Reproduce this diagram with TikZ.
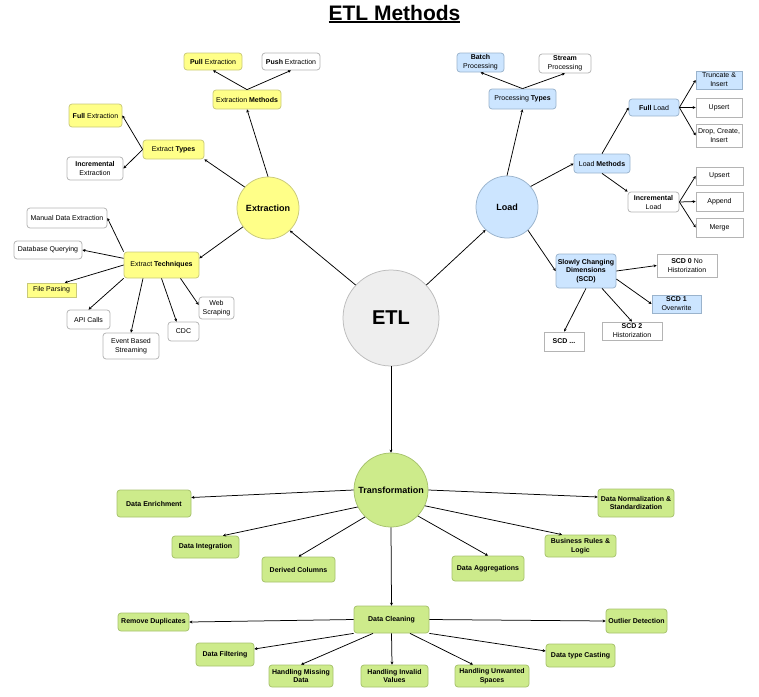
\documentclass[tikz,border=0pt]{standalone}
\usepackage{fontspec}
\setmainfont{Liberation Sans}
\usepackage{xcolor}
\usepackage{tikz}
\usetikzlibrary{arrows.meta}

\definecolor{ylfill}{HTML}{FFFF88}
\definecolor{yldraw}{HTML}{C9C97A}
\definecolor{blfill}{HTML}{CCE5FF}
\definecolor{bldraw}{HTML}{9AB3CC}
\definecolor{grfill}{HTML}{CDEB8B}
\definecolor{grdraw}{HTML}{A6C26C}
\definecolor{wtdraw}{HTML}{B4B4B4}
\definecolor{etlfill}{HTML}{EEEEEE}
\definecolor{etldraw}{HTML}{BBBBBB}

\tikzstyle{box} = [
    rectangle, 
    rounded corners=3pt,
    draw,
    align=center,
    inner sep=1pt,
    % minimum size=5mm,
    font=\fontsize{7}{9}\selectfont
    ]
\tikzstyle{ybox} = [box, fill=ylfill, draw=yldraw]
\tikzstyle{bbox} = [box, fill=blfill, draw=bldraw]
\tikzstyle{wbox} = [box, fill=white, draw=wtdraw]
\tikzstyle{gbox} = [box, fill=grfill, draw=grdraw, font=\fontsize{7}{8.5}\selectfont\bfseries]
\tikzstyle{hub} = [
    circle,
    draw,
    inner sep=0pt,
    font=\fontsize{9}{11}\selectfont\bfseries
    ]

\begin{document}
\begin{tikzpicture}[x=1pt, y=-1pt, line width=0.75pt, >={Stealth[length=3pt,width=3pt]}]
        \useasboundingbox (0,0) rectangle (759,696);

        \node (title) [anchor=base] at (394.5,20) {\fontsize{21}{25}\selectfont\bfseries
            \setbox0\hbox{ETL Methods}\rlap{\rule[-3.2pt]{\wd0}{1.8pt}}\box0};

        \node (etl) [hub, fill=etlfill, draw=etldraw, minimum size=96pt, font=\fontsize{20}{24}\selectfont\bfseries] at (391,318) {ETL};

        % Extraction
        \node (ext) [hub, fill=ylfill, draw=yldraw, minimum size=62pt] at (268,208) {Extraction};
        \node (emeth) [ybox, minimum width=68pt, minimum height=19pt] at (247,99.5) {Extraction \textbf{Methods}};
        \node (pull) [ybox, minimum width=58pt, minimum height=17pt] at (213,61.5) {\textbf{Pull} Extraction};
        \node (push) [wbox, minimum width=58pt, minimum height=17pt] at (291,61.5) {\textbf{Push} Extraction};
        \node (etypes) [ybox, minimum width=61pt, minimum height=19pt] at (173.5,149.5) {Extract \textbf{Types}};
        \node (fullx) [ybox, minimum width=53pt, minimum height=23pt] at (95.5,115.5) {\textbf{Full} Extraction};
        \node (incx) [wbox, minimum width=56pt, minimum height=23pt] at (95,168.5) {\textbf{Incremental}\\Extraction};
        \node (etech) [ybox, minimum width=75pt, minimum height=26pt] at (161.5,265) {Extract \textbf{Techniques}};
        \node (manual) [wbox, minimum width=80pt, minimum height=20pt] at (67,218) {Manual Data Extraction};
        \node (dbq) [wbox, minimum width=68pt, minimum height=18pt] at (48,250) {Database Querying};
        \node (file) [ybox, sharp corners, minimum width=49pt, minimum height=14pt] at (51.5,290) {File Parsing};
        \node (api) [wbox, minimum width=43pt, minimum height=19pt] at (88.5,319.5) {API Calls};
        \node (event) [wbox, minimum width=56pt, minimum height=26pt] at (131,346) {Event Based\\Streaming};
        \node (cdc) [wbox, minimum width=31pt, minimum height=19pt] at (183.5,331.5) {CDC};
        \node (web) [wbox, minimum width=35pt, minimum height=22pt] at (216.5,308) {Web\\Scraping};

        % Load
        \node (load) [hub, fill=blfill, draw=bldraw, minimum size=62pt] at (507,207) {Load};
        \node (ptypes) [bbox, minimum width=67pt, minimum height=20pt] at (522.5,99) {Processing \textbf{Types}};
        \node (batch) [bbox, minimum width=47pt, minimum height=19pt] at (480.5,62.5) {\textbf{Batch}\\Processing};
        \node (stream) [wbox, minimum width=52pt, minimum height=19pt] at (565,63.5) {\textbf{Stream}\\Processing};
        \node (lmeth) [bbox, minimum width=56pt, minimum height=19pt] at (602,163.5) {Load \textbf{Methods}};
        \node (fload) [bbox, minimum width=50pt, minimum height=17pt] at (654,107.5) {\textbf{Full} Load};
        \node (trunc) [bbox, sharp corners, minimum width=46pt, minimum height=18pt] at (719,80) {Truncate \&\\Insert};
        \node (fups) [wbox, sharp corners, minimum width=46pt, minimum height=19pt] at (719,107.5) {Upsert};
        \node (drop) [wbox, sharp corners, minimum width=46pt, minimum height=23pt] at (719,135.5) {Drop, Create,\\Insert};
        \node (iload) [wbox, minimum width=51pt, minimum height=20pt] at (653.5,202) {\textbf{Incremental}\\Load};
        \node (iups) [wbox, sharp corners, minimum width=47pt, minimum height=18pt] at (719.5,176) {Upsert};
        \node (app) [wbox, sharp corners, minimum width=47pt, minimum height=19pt] at (719.5,201.5) {Append};
        \node (merge) [wbox, sharp corners, minimum width=47pt, minimum height=19pt] at (719.5,227.5) {Merge};
        \node (scd) [bbox, minimum width=60pt, minimum height=34pt, font=\fontsize{7}{8.5}\selectfont\bfseries] at (586,271) {Slowly Changing\\Dimensions\\(SCD)};
        \node (scd0) [wbox, sharp corners, minimum width=60pt, minimum height=23pt] at (687,265.5) {\textbf{SCD 0} No\\Historization};
        \node (scd1) [bbox, sharp corners, minimum width=49pt, minimum height=18pt] at (676.5,304) {\textbf{SCD 1}\\Overwrite};
        \node (scd2) [wbox, sharp corners, minimum width=60pt, minimum height=18pt] at (632,331) {\textbf{SCD 2}\\Historization};
        \node (scdx) [wbox, sharp corners, minimum width=40pt, minimum height=19pt] at (564,341.5) {\textbf{SCD ...}};

        % Transformation
        \node (trans) [hub, fill=grfill, draw=grdraw, minimum size=74pt] at (391,490) {Transformation};
        \node (enrich) [gbox, minimum width=74pt, minimum height=27pt] at (154,503.5) {Data Enrichment};
        \node (integ) [gbox, minimum width=67pt, minimum height=22pt] at (205.5,547) {Data Integration};
        \node (derived) [gbox, minimum width=73pt, minimum height=25pt] at (298.5,569.5) {Derived Columns};
        \node (norm) [gbox, minimum width=76pt, minimum height=28pt] at (636,503) {Data Normalization \&\\Standardization};
        \node (rules) [gbox, minimum width=71pt, minimum height=22pt] at (580.5,546) {Business Rules \&\\Logic};
        \node (aggr) [gbox, minimum width=72pt, minimum height=25pt] at (488,568.5) {Data Aggregations};
        \node (clean) [gbox, minimum width=75pt, minimum height=27pt] at (391.5,619.5) {Data Cleaning};
        \node (dup) [gbox, minimum width=71pt, minimum height=18pt] at (153.5,622) {Remove Duplicates};
        \node (filt) [gbox, minimum width=58pt, minimum height=23pt] at (225,654.5) {Data Filtering};
        \node (hmiss) [gbox, minimum width=64pt, minimum height=22pt] at (301,676) {Handling Missing\\Data};
        \node (hinv) [gbox, minimum width=67pt, minimum height=22pt] at (394.5,676) {Handling Invalid\\Values};
        \node (hunw) [gbox, minimum width=74pt, minimum height=22pt] at (492,676) {Handling Unwanted\\Spaces};
        \node (cast) [gbox, minimum width=69pt, minimum height=23pt] at (580.5,655.5) {Data type Casting};
        \node (outl) [gbox, minimum width=61pt, minimum height=24pt] at (636.5,621) {Outlier Detection};

        % Lines
        \draw[->] (etl.137) -- (ext.314);
        \draw[->] (etl.43) -- (load.227);
        \draw[->] (etl.south) -- (trans.north);

        \draw[->] (ext.north) -- (emeth.south);
        \draw[->] (emeth.north) -- (pull.south);
        \draw[->] (emeth.north) -- (push.south);
        \draw[->] (ext.138) -- (etypes.south east);
        \draw[->] (etypes.west) -- (fullx.east);
        \draw[->] (etypes.west) -- (incx.east);
        \draw[->] (ext.217) -- (etech.10);
        \draw[->] (etech.north west) -- (manual.east);
        \draw[->] (etech.170) -- (dbq.east);
        \draw[->] (etech.west) -- (file.29);
        \draw[->] (etech.south west) -- (api.north);
        \draw[->] ([xshift=-18.5pt]etech.south) -- (event.north);
        \draw[->] (etech.south) -- ([xshift=-7pt]cdc.north);
        \draw[->] ([xshift=19pt]etech.south) -- (web.170);

        \draw[->] (load.north) -- (ptypes.south);
        \draw[->] (ptypes.north) -- (batch.south);
        \draw[->] (ptypes.north) -- (stream.south);
        \draw[->] (load.41) -- (lmeth.west);
        \draw[->] (lmeth.north) -- (fload.west);
        \draw[->] (lmeth.south) -- (iload.north west);
        \draw[->] (fload.east) -- (trunc.west);
        \draw[->] (fload.east) -- (fups.west);
        \draw[->] (fload.east) -- (drop.west);
        \draw[->] (iload.east) -- (iups.west);
        \draw[->] (iload.east) -- (app.west);
        \draw[->] (iload.east) -- (merge.west);
        \draw[->] (load.312) -- (scd.west);
        \draw[->] (scd.east) -- (scd0.west);
        \draw[->] ([yshift=-8pt]scd.east) -- (scd1.west);
        \draw[->] ([xshift=16pt]scd.south) -- (scd2.north);
        \draw[->] (scd.south) -- (scdx.north);

        \draw[->] (trans.west) -- ([yshift=6pt]enrich.east);
        \draw[->] (trans.207) -- ([xshift=17.5pt]integ.north);
        \draw[->] (trans.226) -- (derived.north);
        \draw[->] (trans.east) -- ([yshift=6pt]norm.west);
        \draw[->] (trans.335) -- ([xshift=-18.5pt]rules.north);
        \draw[->] (trans.316) -- (aggr.north);
        \draw[->] (trans.south) -- (clean.north);
        \draw[->] (clean.west) -- (dup.east);
        \draw[->] (clean.south west) -- ([yshift=5.5pt]filt.east);
        \draw[->] ([xshift=-18.5pt]clean.south) -- (hmiss.north);
        \draw[->] (clean.south) -- ([xshift=-2.5pt]hinv.north);
        \draw[->] ([xshift=18.5pt]clean.south) -- ([xshift=-19pt]hunw.north);
        \draw[->] (clean.south east) -- ([yshift=4.5pt]cast.west);
        \draw[->] (clean.east) -- (outl.west);

    \end{tikzpicture}
\end{document}
